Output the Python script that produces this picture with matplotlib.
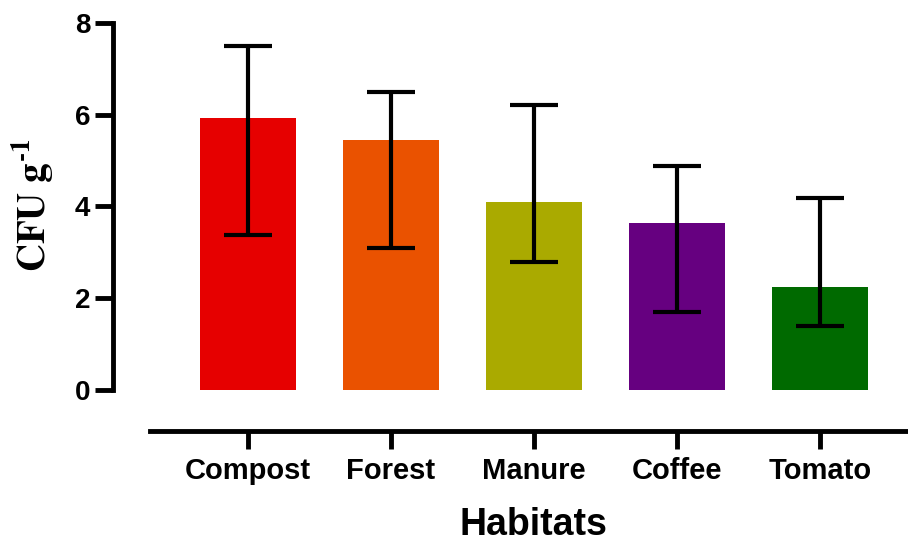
import matplotlib
matplotlib.use('Agg')
import matplotlib.pyplot as plt
import numpy as np

# data
habitats = ['Compost', 'Forest', 'Manure', 'Coffee', 'Tomato']
cfu_mean = [5.92, 5.45, 4.10, 3.64, 2.24]
err_low = [3.38, 3.09, 2.79, 1.70, 1.39]
err_high = [7.49, 6.49, 6.21, 4.88, 4.18]
bar_colors = ['#E60000', '#EA5200', '#AAAA00', '#660080', '#006A00']
y_ticks = [0, 2, 4, 6, 8]

plt.rcParams['font.family'] = ['Liberation Sans', 'DejaVu Sans']
plt.rcParams['font.weight'] = 'bold'
plt.rcParams['mathtext.fontset'] = 'stix'

fig = plt.figure(figsize=(9.08, 5.45), dpi=100)
ax = fig.add_axes([112.5 / 908, 114 / 545, 1 - 112.5 / 908, (525 - 114) / 545])

x = np.arange(len(habitats))
mean = np.array(cfu_mean)
yerr = [mean - np.array(err_low), np.array(err_high) - mean]

ax.bar(x, mean, width=0.67, color=bar_colors, zorder=1)
ax.errorbar(x, mean, yerr=yerr, fmt='none', ecolor='black',
            elinewidth=3, capsize=17, capthick=3, zorder=2)

# axis limits / spines, Prism style
ax.set_xlim(-0.948, 4.615)
ax.set_ylim(-0.894, 8.065)
for s in ['top', 'right']:
    ax.spines[s].set_visible(False)
ax.spines['left'].set_bounds(0, 8)
ax.spines['bottom'].set_bounds(-0.685, 4.615)
ax.spines['left'].set_linewidth(3.5)
ax.spines['bottom'].set_linewidth(3.5)

ax.set_yticks(y_ticks)
ax.set_yticklabels([str(t) for t in y_ticks], fontsize=20, fontweight='bold')
ax.set_xticks(x)
ax.set_xticklabels(habitats, fontsize=21, fontweight='bold')
ax.tick_params(axis='y', length=13, width=3.5, pad=3)
ax.tick_params(axis='x', length=13, width=3.5, pad=6)

# axis titles
fig.text(33 / 908, 1 - 205 / 545, r'$\mathbf{CFU\ g^{\text{-}1}}$', rotation=90,
         ha='center', va='center', fontsize=28)
fig.text(533 / 908, 2 / 545, 'Habitats', ha='center', va='bottom',
         fontsize=27, fontweight='bold')

fig.savefig('out.png', dpi=100)
